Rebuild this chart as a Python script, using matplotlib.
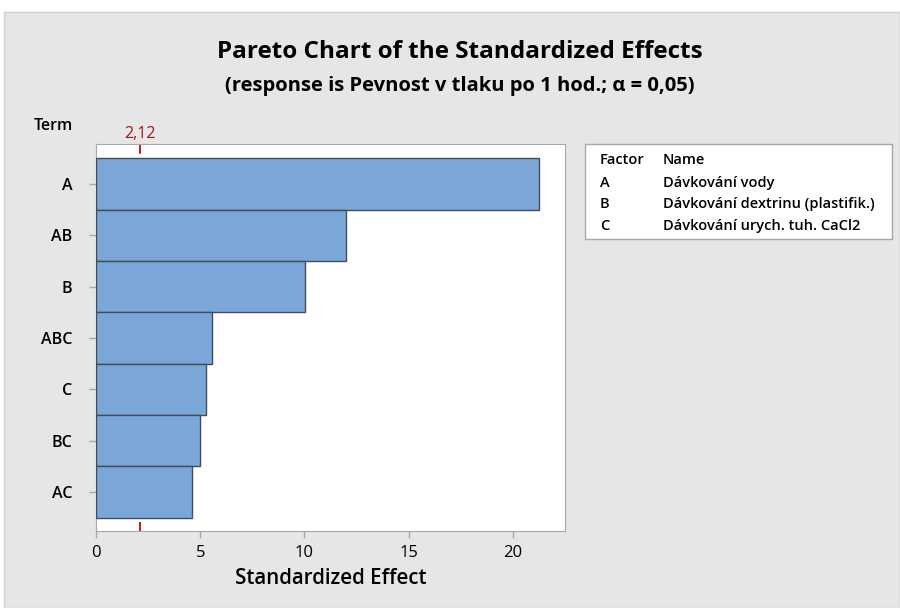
import matplotlib
matplotlib.use("Agg")
import matplotlib.pyplot as plt
from matplotlib.patches import Rectangle

terms = ["A", "AB", "B", "ABC", "C", "BC", "AC"]
effects = [21.23, 12.0, 10.05, 5.58, 5.28, 4.97, 4.61]
critical = 2.12
xticks = [0, 5, 10, 15, 20]
factors = ["A", "B", "C"]
names = ["Dávkování vody", "Dávkování dextrinu (plastifik.)", "Dávkování urych. tuh. CaCl2"]

plt.rcParams['font.family'] = ['Open Sans', 'DejaVu Sans']

W, H = 900, 608
fig = plt.figure(figsize=(9, 6.08), dpi=100)
fig.patch.set_facecolor("white")
fig.patches.append(Rectangle((4 / W, 0), 1 - 4 / W, 1 - 12 / H, transform=fig.transFigure,
                             facecolor="#e6e6e6", edgecolor="#d0d0d0", linewidth=1, zorder=-10))

ax = fig.add_axes([96 / W, 1 - 531 / H, (565 - 96) / W, (531 - 144) / H])
ax.set_facecolor("white")
ypos = list(range(len(terms)))
ax.barh(ypos, effects, height=1.0, color="#7ba7d8", edgecolor="#454c55", linewidth=1, zorder=3)
ax.axvline(critical, color="#cc0000", linestyle=(0, (5, 6)), linewidth=1.3, zorder=2)
ax.set_xlim(0, 22.5)
ax.set_ylim(6.76, -0.78)
ax.set_yticks(ypos)
ax.set_yticklabels(terms, fontsize=11.5, fontweight="semibold")
ax.set_xticks(xticks)
ax.set_xticklabels([str(t) for t in xticks], fontsize=12)
for s in ax.spines.values():
    s.set_color("#a8a8a8")
ax.tick_params(axis="both", color="#a8a8a8", length=5, width=1, direction="out")
ax.tick_params(axis="y", pad=12)
ax.tick_params(axis="x", pad=5)
ax.set_xlabel("Standardized Effect", fontsize=14.8, fontweight="semibold", labelpad=5)

ax.text(critical, 1.005, "2,12", transform=ax.get_xaxis_transform(), ha="center", va="bottom",
        color="#a31515", fontsize=11.5)

fig.text(53 / W, 1 - 126 / H, "Term", ha="center", va="center", fontsize=11.5, fontweight="semibold")

fig.text(460 / W, 1 - 52 / H, "Pareto Chart of the Standardized Effects", ha="center", va="center",
         fontsize=17.5, fontweight="bold")
fig.text(460 / W, 1 - 86 / H, "(response is Pevnost v tlaku po 1 hod.; α = 0,05)", ha="center",
         va="center", fontsize=14.5, fontweight="bold")

# legend table
fig.patches.append(Rectangle((585 / W, 1 - 239 / H), (892 - 585) / W, (239 - 144) / H,
                             transform=fig.transFigure, facecolor="white", edgecolor="#a8a8a8",
                             linewidth=1, zorder=-5))
rows_y = [160, 183, 204, 226]
fs = 10.5
fig.text(600 / W, 1 - rows_y[0] / H, "Factor", ha="left", va="center", fontsize=fs, fontweight="semibold")
fig.text(663 / W, 1 - rows_y[0] / H, "Name", ha="left", va="center", fontsize=fs, fontweight="semibold")
for f, n, y in zip(factors, names, rows_y[1:]):
    fig.text(600 / W, 1 - y / H, f, ha="left", va="center", fontsize=fs, fontweight="semibold")
    fig.text(663 / W, 1 - y / H, n, ha="left", va="center", fontsize=fs, fontweight="semibold")

fig.savefig("out.png", dpi=100)
